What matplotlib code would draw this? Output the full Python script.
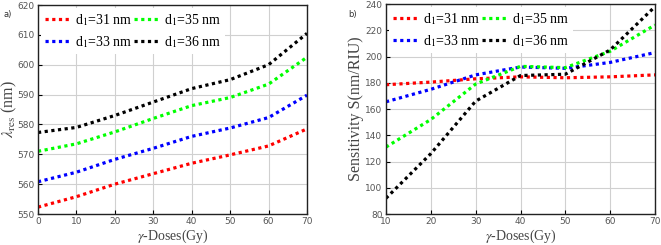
import matplotlib
matplotlib.use("Agg")
import matplotlib.pyplot as plt

plt.rcParams["mathtext.fontset"] = "stix"

# Panel a data
dose_a = [0, 10, 20, 30, 40, 50, 60, 70]
lam_31 = [552.3, 555.8, 560.0, 563.5, 567.0, 569.8, 572.8, 578.5]
lam_33 = [560.8, 564.0, 568.3, 572.0, 576.0, 578.8, 582.3, 589.8]
lam_35 = [571.0, 573.5, 577.5, 582.0, 586.3, 589.0, 593.5, 602.5]
lam_36 = [577.3, 579.0, 583.0, 587.5, 592.0, 595.0, 600.0, 610.5]

# Panel b data
dose_b = [10, 20, 30, 40, 50, 60, 70]
s_31 = [178.5, 180.5, 183.0, 184.5, 183.8, 184.5, 186.0]
s_33 = [165.5, 175.0, 186.0, 192.0, 191.0, 195.5, 203.0]
s_35 = [131.0, 152.0, 179.0, 192.5, 191.5, 204.0, 224.0]
s_36 = [92.0, 126.0, 166.0, 185.5, 186.5, 205.0, 238.0]

keys = ["31", "33", "35", "36"]
labels = {"31": "d$_1$=31 nm", "33": "d$_1$=33 nm", "35": "d$_1$=35 nm", "36": "d$_1$=36 nm"}
colors = {"31": "#ff0000", "33": "#0000ff", "35": "#00ff00", "36": "#000000"}

serif = "Liberation Serif"
fig = plt.figure(figsize=(6.61, 2.45), dpi=100)
W, H = 661, 245
ax1 = fig.add_axes([38 / W, 1 - 214 / H, (307 - 38) / W, (214 - 5) / H])
ax2 = fig.add_axes([386 / W, 1 - 214 / H, (655 - 386) / W, (214 - 4) / H])

def style(ax):
    ax.grid(True, color="#d0d0d0", linewidth=0.8)
    ax.set_axisbelow(True)
    for s in ax.spines.values():
        s.set_linewidth(1.0)
        s.set_color("#222222")
    ax.tick_params(direction="in", labelsize=6.5, labelcolor="#555555", length=3, width=0.8, pad=2.5)

def plot_panel(ax, x, ys):
    handles = []
    for key, y in zip(keys, ys):
        h, = ax.plot(x, y, linestyle=(0, (1, 1.1)), color=colors[key], linewidth=2.3)
        handles.append(h)
    ax.legend(handles, [labels[k] for k in keys], ncol=2, loc="upper left",
              frameon=True, edgecolor="none", facecolor="white", framealpha=1,
              prop={"family": serif, "size": 10}, handlelength=1.8,
              columnspacing=0.15, handletextpad=0.35, labelspacing=0.45,
              borderaxespad=0.2, borderpad=0.3)

plot_panel(ax1, dose_a, [lam_31, lam_33, lam_35, lam_36])
ax1.set_xlim(0, 70)
ax1.set_ylim(550, 620)
ax1.set_xticks(range(0, 71, 10))
ax1.set_yticks(range(550, 621, 10))
style(ax1)
ax1.set_xlabel(r"$\gamma$-Doses(Gy)", family=serif, fontsize=10, color="#444444", labelpad=1)
ax1.set_ylabel(r"$\lambda_{\rm res}$ (nm)", family=serif, fontsize=11.5, color="#444444")
ax1.yaxis.set_label_coords(-0.072, 0.5)

plot_panel(ax2, dose_b, [s_31, s_33, s_35, s_36])
ax2.set_xlim(10, 70)
ax2.set_ylim(80, 240)
ax2.set_xticks(range(10, 71, 10))
ax2.set_yticks(range(80, 241, 20))
style(ax2)
ax2.set_xlabel(r"$\gamma$-Doses(Gy)", family=serif, fontsize=10, color="#444444", labelpad=1)
ax2.set_ylabel("Sensitivity S(nm/RIU)", family=serif, fontsize=11.5, color="#444444", labelpad=1)

fig.text(3 / W, 1 - 17 / H, "a)", fontsize=6, color="#333333")
fig.text(348 / W, 1 - 17 / H, "b)", fontsize=6, color="#333333")

fig.savefig("out.png", dpi=100)
